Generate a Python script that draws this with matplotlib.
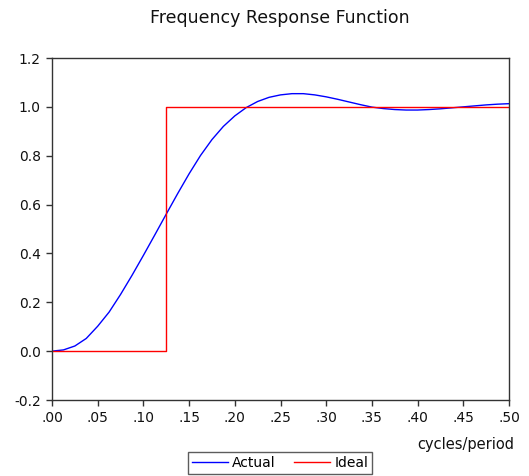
import matplotlib
matplotlib.use('Agg')
import matplotlib.pyplot as plt

# frequency grid (cycles/period) and the filter's actual response
freq = [0.0, 0.0125, 0.025, 0.0375, 0.05, 0.0625, 0.075, 0.0875, 0.1, 0.1125,
        0.125, 0.1375, 0.15, 0.1625, 0.175, 0.1875, 0.2, 0.2125, 0.225, 0.2375,
        0.25, 0.2625, 0.275, 0.2875, 0.3, 0.3125, 0.325, 0.3375, 0.35, 0.3625,
        0.375, 0.3875, 0.4, 0.4125, 0.425, 0.4375, 0.45, 0.4625, 0.475, 0.4875, 0.5]
actual = [0.0, 0.005, 0.021, 0.052, 0.102, 0.160, 0.232, 0.310, 0.392, 0.476,
          0.561, 0.645, 0.726, 0.801, 0.866, 0.920, 0.963, 0.997, 1.022, 1.039,
          1.049, 1.054, 1.054, 1.049, 1.041, 1.031, 1.020, 1.009, 0.999, 0.993,
          0.989, 0.987, 0.987, 0.989, 0.992, 0.996, 1.000, 1.004, 1.008, 1.011, 1.013]

# ideal filter: step at the cutoff
ideal_x = [0.0, 0.125, 0.125, 0.5]
ideal_y = [0.0, 0.0, 1.0, 1.0]

xticks = [0.0, 0.05, 0.1, 0.15, 0.2, 0.25, 0.3, 0.35, 0.4, 0.45, 0.5]
xtick_labels = ['.00', '.05', '.10', '.15', '.20', '.25', '.30', '.35', '.40', '.45', '.50']
yticks = [-0.2, 0.0, 0.2, 0.4, 0.6, 0.8, 1.0, 1.2]

plt.rcParams['font.family'] = ['DejaVu Sans']

fig = plt.figure(figsize=(5.29, 4.76), dpi=100)
ax = fig.add_axes([52/529, 1 - 400/476, 457/529, 342/476])

l1, = ax.plot(freq, actual, color='#0000ff', lw=1.0, label='Actual')
l2, = ax.plot(ideal_x, ideal_y, color='#ff0000', lw=1.0, label='Ideal')

ax.set_xlim(0, 0.5)
ax.set_ylim(-0.2, 1.2)
ax.set_xticks(xticks)
ax.set_xticklabels(xtick_labels)
ax.set_yticks(yticks)
ax.set_yticklabels(['%.1f' % v for v in yticks])
ax.tick_params(direction='out', length=4, width=1, labelsize=10, colors='#333333',
               labelcolor='#111111', pad=4)
for s in ax.spines.values():
    s.set_color('#333333')
    s.set_linewidth(1.0)

fig.text(280/529, 1 - 18/476, 'Frequency Response Function', ha='center', va='center',
         fontsize=12.5, color='#111111')
fig.text(514/529, 1 - 445/476, 'cycles/period', ha='right', va='center',
         fontsize=10.5, color='#111111')

leg = fig.legend(handles=[l1, l2], loc='center', bbox_to_anchor=(280/529, 1 - 463/476),
                 ncol=2, frameon=True, fancybox=False, fontsize=10, handlelength=2.6,
                 handletextpad=0.3, columnspacing=1.3, borderpad=0.3, borderaxespad=0)
leg.get_frame().set_edgecolor('#333333')
leg.get_frame().set_linewidth(1.0)

fig.savefig('out.png', dpi=100)
